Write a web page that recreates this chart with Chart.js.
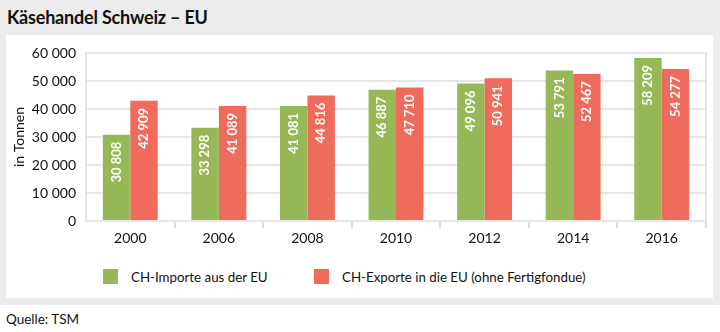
<!DOCTYPE html>
<html><head><meta charset="utf-8">
<script src="https://cdn.jsdelivr.net/npm/chart.js@4"></script>
<style>
html,body{margin:0;padding:0;background:#fff;width:720px;height:332px;overflow:hidden;font-family:Lato,sans-serif;}
#frame{position:absolute;left:0;top:0;width:720px;height:305px;background:#ececec;}
#title{position:absolute;left:7px;top:6px;font-size:18px;font-weight:bold;color:#111;letter-spacing:-0.2px;}
#panel{position:absolute;left:6px;top:35px;width:707px;height:263px;background:#fff;}
#wrap{position:absolute;left:0;top:0;width:720px;height:250px;}
#source{position:absolute;left:6px;top:311px;font-size:13.5px;color:#111;}
.leg{position:absolute;top:269px;height:16px;font-size:13.3px;color:#111;line-height:16px;}
.leg i{position:absolute;left:0;top:0;width:15px;height:15px;}
.leg span{position:absolute;white-space:nowrap;left:28px;top:0;}
</style></head>
<body>
<div id="frame"><div id="title">Käsehandel Schweiz – EU</div><div id="panel"></div></div>
<div id="wrap"><canvas id="c" width="720" height="250"></canvas></div>
<div class="leg" style="left:103px"><i style="background:#97b856"></i><span>CH-Importe aus der EU</span></div>
<div class="leg" style="left:314px"><i style="background:#ef6b5b"></i><span>CH-Exporte in die EU (ohne Fertigfondue)</span></div>
<div id="source">Quelle: TSM</div>
<script>
const categories = ['2000','2006','2008','2010','2012','2014','2016'];
const importe = [30808, 33298, 41081, 46887, 49096, 53791, 58209];
const exporte = [42909, 41089, 44816, 47710, 50941, 52467, 54277];
const seriesNames = ['CH-Importe aus der EU','CH-Exporte in die EU (ohne Fertigfondue)'];
const yTicks = [0,10000,20000,30000,40000,50000,60000];

function fmt(v){return String(v).replace(/\B(?=(\d{3})+(?!\d))/g,' ');}

const barLabels = {
  id:'barLabels',
  afterDatasetsDraw(chart){
    const ctx = chart.ctx;
    ctx.save();
    ctx.fillStyle = '#fff';
    ctx.font = 'bold 13px Lato';
    ctx.textAlign = 'right';
    ctx.textBaseline = 'middle';
    chart.data.datasets.forEach((ds,i)=>{
      chart.getDatasetMeta(i).data.forEach((el,j)=>{
        ctx.save();
        ctx.translate(el.x, el.y + 7);
        ctx.rotate(-Math.PI/2);
        ctx.fillText(fmt(ds.data[j]),0,0);
        ctx.restore();
      });
    });
    ctx.restore();
  }
};
const frameBorder = {
  id:'frameBorder',
  beforeDatasetsDraw(chart){
    const {ctx, chartArea:a} = chart;
    ctx.save();
    ctx.strokeStyle = '#e6e6e6';
    ctx.lineWidth = 2;
    ctx.beginPath();
    ctx.moveTo(a.right, a.top); ctx.lineTo(a.right, a.bottom);
    ctx.stroke();
    ctx.restore();
  }
};

new Chart(document.getElementById('c'), {
  type:'bar',
  data:{
    labels:categories,
    datasets:[
      {label:seriesNames[0], data:importe, backgroundColor:'#97b856'},
      {label:seriesNames[1], data:exporte, backgroundColor:'#ef6b5b'}
    ]
  },
  options:{
    responsive:false, animation:false,
    layout:{padding:{left:0,top:53,right:14,bottom:0}},
    datasets:{bar:{categoryPercentage:0.62, barPercentage:1}},
    plugins:{legend:{display:false}, tooltip:{enabled:false}},
    scales:{
      x:{
        grid:{offset:true, drawOnChartArea:false, tickLength:7, lineWidth:2,
              color:(c)=> (c.index===0 || c.index===categories.length) ? 'rgba(0,0,0,0)' : '#dcdcdc'},
        border:{color:'#e6e6e6', width:2},
        ticks:{color:'#111', font:{family:'Lato', size:14}, padding:2},
        afterFit(s){s.height=29;}
      },
      y:{
        min:0, max:60000,
        afterBuildTicks(s){s.ticks = yTicks.map(v=>({value:v}));},
        grid:{color:'#e6e6e6', lineWidth:2, drawTicks:false},
        border:{color:'#e6e6e6', width:2},
        ticks:{color:'#111', font:{family:'Lato', size:14}, padding:10, callback:(v)=>fmt(v)},
        title:{display:true, text:'in Tonnen', color:'#111', font:{family:'Lato', size:14}, padding:{top:11,bottom:0}},
        afterFit(s){s.width=86;}
      }
    }
  },
  plugins:[barLabels, frameBorder]
});
</script>
</body></html>
